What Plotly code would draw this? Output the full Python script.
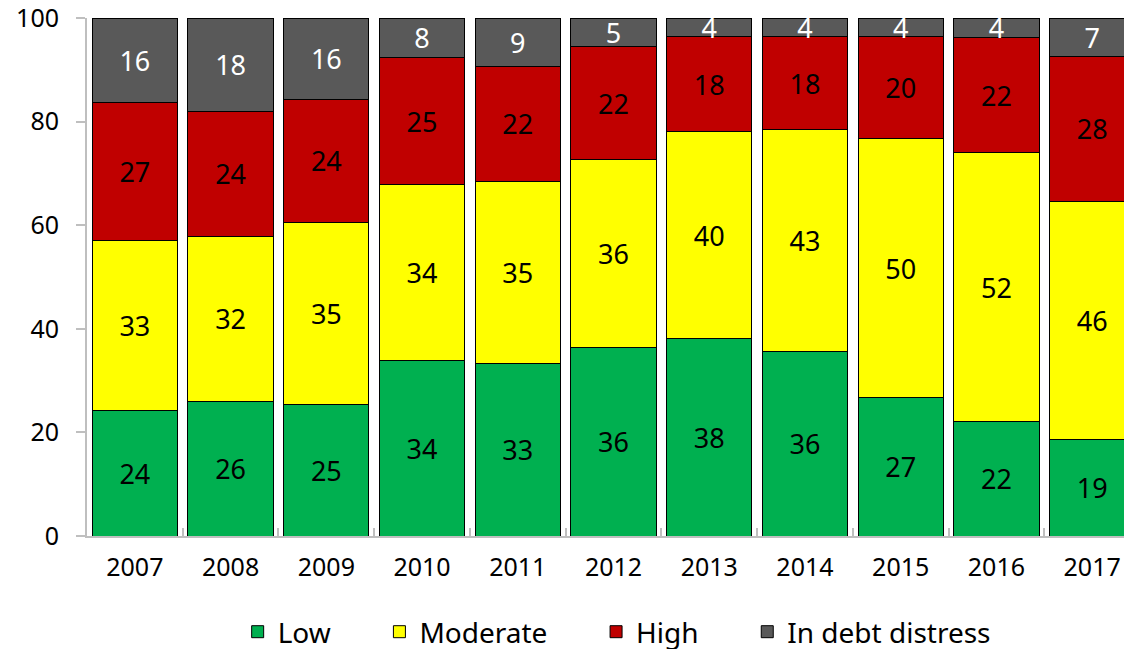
import plotly.graph_objs as go

years = ['2007', '2008', '2009', '2010', '2011', '2012', '2013', '2014', '2015', '2016', '2017']

# Share of countries by risk of debt distress (percent)
low = [24.3, 25.9, 25.4, 33.8, 33.3, 36.3, 38.1, 35.6, 26.7, 22.1, 18.6]
moderate = [32.7, 32.0, 35.2, 34.0, 35.1, 36.3, 40.0, 42.8, 50.0, 51.9, 46.0]
high = [26.6, 24.0, 23.6, 24.6, 22.3, 21.9, 18.3, 18.0, 19.7, 22.2, 28.0]
distress = [16.4, 18.1, 15.8, 7.6, 9.3, 5.4, 3.6, 3.6, 3.6, 3.8, 7.4]

y_ticks = [0, 20, 40, 60, 80, 100]

font_family = 'Noto Sans'
pad = '\u00a0' * 6  # a little extra room between legend entries

series = [
    ('Low' + pad, low, '#00B050', 'black'),
    ('Moderate' + pad, moderate, '#FFFF00', 'black'),
    ('High' + pad, high, '#C00000', 'black'),
    ('In debt distress', distress, '#595959', 'white'),
]

fig = go.Figure()
for name, values, color, text_color in series:
    fig.add_trace(
        go.Bar(
            x=years,
            y=values,
            name=name,
            marker=dict(color=color, line=dict(color='black', width=1)),
            texttemplate='%{y:.0f}',
            textposition='inside',
            insidetextanchor='middle',
            textangle=0,
            constraintext='none',
            textfont=dict(family=font_family, size=27, color=text_color),
            hoverinfo='x+y+name'
        )
    )

# page body adds an 8px offset; the right edge of the figure runs past the
# window so the last bar is cut off like in the original
fig.update_layout(
    barmode='stack',
    bargap=0.11,
    width=1132,
    height=649,
    margin=dict(l=79, r=0, t=10, b=120),
    plot_bgcolor='white',
    paper_bgcolor='white',
    font=dict(family=font_family, size=25, color='black'),
    legend=dict(
        orientation='h',
        x=0.503,
        xanchor='center',
        y=-0.138,
        yanchor='top',
        font=dict(size=28),
        itemwidth=30,
        traceorder='normal'
    ),
    xaxis=dict(
        range=[-0.5, 10.5],
        automargin=False,
        showline=True,
        linecolor='#BFBFBF',
        linewidth=2,
        ticks='inside',
        tickson='boundaries',
        ticklen=8,
        tickcolor='#BFBFBF',
        tickwidth=2,
        ticklabelstandoff=8,
        showgrid=False
    ),
    yaxis=dict(
        range=[0, 100],
        automargin=False,
        tickmode='array',
        tickvals=y_ticks,
        ticktext=[str(v) for v in y_ticks],
        ticklabeloverflow='allow',
        showline=True,
        linecolor='#BFBFBF',
        linewidth=2,
        ticks='outside',
        ticklen=9,
        tickcolor='#BFBFBF',
        tickwidth=2,
        ticklabelstandoff=12,
        showgrid=False,
        zeroline=False
    )
)

fig.write_html("out.html")
